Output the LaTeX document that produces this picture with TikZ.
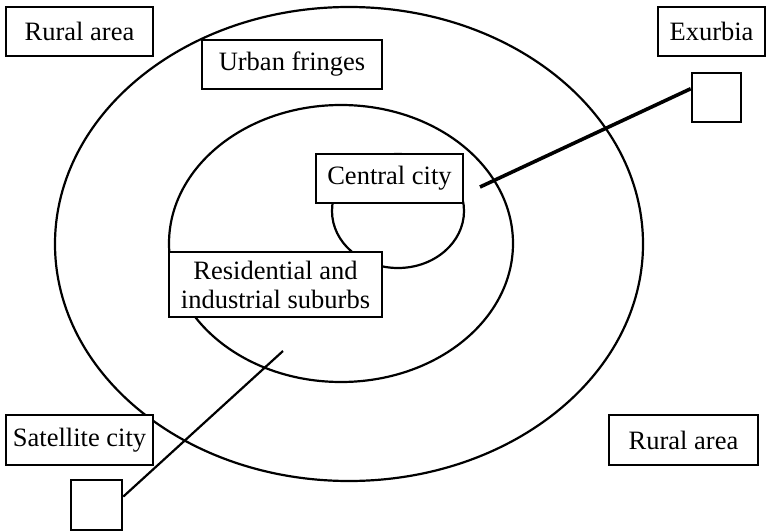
\documentclass[tikz,border=0pt]{standalone}
\usepackage{fontspec}
\setmainfont{Liberation Serif}
\usetikzlibrary{calc}
\begin{document}
\begin{tikzpicture}[x=1pt,y=-1pt,
  zone/.style={line width=2.2pt},
  label box/.style={draw, line width=1.4pt, fill=white, inner sep=0pt,
    font=\fontsize{26.5}{29}\selectfont, align=center},
  site/.style={draw, line width=2.6pt, fill=white, inner sep=0pt},
  link/.style={line width=2.2pt},
  thick link/.style={line width=3.6pt}]
\useasboundingbox (0,0) rectangle (766,532);

% concentric zones
\draw[zone] (349,244) ellipse [x radius=294pt, y radius=237pt];
\draw[zone] (341,243.5) ellipse [x radius=172pt, y radius=138.5pt];
\draw[zone] (398,211) ellipse [x radius=66pt, y radius=57pt];

% outlying settlements
\node[site, minimum width=49pt, minimum height=49pt] (exsq) at (716.5,97.5) {};
\node[site, minimum width=51pt, minimum height=50pt] (satsq) at (96.5,505) {};
\coordinate (exend) at (480,187);
\coordinate (satend) at (283,351);
\draw[thick link] ($(exsq.north west)!0.33!(exsq.south west)$) -- (exend);
\draw[link] ($(satsq.north east)!0.34!(satsq.south east)$) -- (satend);

% labels
\node[label box, minimum width=147pt, minimum height=49pt] (rural1) at (79.5,31.5) {Rural area};
\node[label box, minimum width=180pt, minimum height=49pt] (urban) at (292,64.5) {Urban fringes};
\node[label box, minimum width=107pt, minimum height=49pt] (exurbia) at (711.5,31.5) {Exurbia};
\node[label box, minimum width=147pt, minimum height=49pt] (central) at (389.5,178.5) {Central city};
\node[label box, minimum width=213pt, minimum height=65pt] (resid) at (275.5,284.5) {Residential and\\industrial suburbs};
\node[label box, minimum width=147pt, minimum height=50pt] (satellite) at (79.5,440) {Satellite city};
\node[label box, minimum width=149pt, minimum height=50pt] (rural2) at (683.5,440) {Rural area};
\end{tikzpicture}
\end{document}
